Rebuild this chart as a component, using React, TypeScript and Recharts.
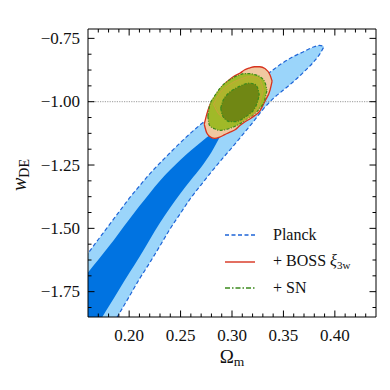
import React from 'react';
import { ComposedChart, Area, XAxis, YAxis, Legend } from 'recharts';

const SERIF = '"Liberation Serif", "DejaVu Serif", serif';

// axis ranges and ticks
const OM_RANGE = [0.16, 0.44];
const W_RANGE = [-1.85, -0.713];
const OM_MAJOR = [0.2, 0.25, 0.3, 0.35, 0.4];
const OM_MINOR = [
  0.17, 0.18, 0.19, 0.21, 0.22, 0.23, 0.24, 0.26, 0.27, 0.28, 0.29, 0.31, 0.32,
  0.33, 0.34, 0.36, 0.37, 0.38, 0.39, 0.41, 0.42, 0.43,
];
const W_MAJOR = [-1.75, -1.5, -1.25, -1.0, -0.75];
const W_MINOR = [
  -1.8125, -1.6875, -1.625, -1.5625, -1.4375, -1.375, -1.3125, -1.1875, -1.125,
  -1.0625, -0.9375, -0.875, -0.8125,
];

// Planck, 95% region (lower / upper edge of w at each Omega_m)
const PLANCK95_OM = [
  0.15, 0.16, 0.17, 0.18, 0.19, 0.2, 0.21, 0.22, 0.23, 0.24, 0.25, 0.26, 0.27, 0.28,
  0.29, 0.3, 0.31, 0.32, 0.33, 0.34, 0.35, 0.36, 0.37, 0.38, 0.385, 0.3895,
];
const PLANCK95_LO = [
  -2.119, -2.049, -1.979, -1.909, -1.839, -1.77, -1.7, -1.636, -1.569, -1.501, -1.44,
  -1.38, -1.328, -1.277, -1.228, -1.181, -1.132, -1.083, -1.031, -0.988, -0.954, -0.92,
  -0.882, -0.84, -0.814, -0.782,
];
const PLANCK95_HI = [
  -1.654, -1.599, -1.544, -1.49, -1.436, -1.382, -1.333, -1.285, -1.242, -1.201, -1.161,
  -1.123, -1.088, -1.056, -1.024, -0.999, -0.969, -0.938, -0.905, -0.874, -0.845, -0.821,
  -0.802, -0.783, -0.778, -0.782,
];

// Planck, 68% region
const PLANCK68_OM = [
  0.15, 0.16, 0.17, 0.18, 0.19, 0.2, 0.21, 0.22, 0.23, 0.24, 0.25, 0.26, 0.27, 0.28,
  0.29, 0.3,
];
const PLANCK68_LO = [
  -2.01, -1.943, -1.876, -1.81, -1.743, -1.677, -1.613, -1.545, -1.478, -1.418, -1.361,
  -1.309, -1.259, -1.2, -1.128, -1.081,
];
const PLANCK68_HI = [
  -1.724, -1.674, -1.624, -1.573, -1.519, -1.465, -1.412, -1.361, -1.312, -1.269, -1.229,
  -1.193, -1.159, -1.128, -1.098, -1.081,
];

// + BOSS xi_3w, 95%
const BOSS95_OM = [
  0.273, 0.2755, 0.278, 0.283, 0.288, 0.293, 0.298, 0.303, 0.308, 0.312, 0.317, 0.322,
  0.327, 0.332, 0.337, 0.339,
];
const BOSS95_LO = [
  -1.089, -1.124, -1.136, -1.145, -1.14, -1.13, -1.12, -1.111, -1.093, -1.081, -1.069,
  -1.055, -1.037, -0.998, -0.954, -0.919,
];
const BOSS95_HI = [
  -1.089, -1.049, -1.018, -0.982, -0.952, -0.929, -0.911, -0.897, -0.887, -0.875, -0.867,
  -0.862, -0.862, -0.869, -0.895, -0.919,
];

// + BOSS xi_3w, 68%
const BOSS68_OM = [0.282, 0.288, 0.298, 0.308, 0.317, 0.325, 0.329, 0.3305];
const BOSS68_LO = [-1.01, -1.053, -1.073, -1.077, -1.061, -1.026, -0.978, -0.954];
const BOSS68_HI = [-1.01, -0.966, -0.931, -0.911, -0.901, -0.905, -0.931, -0.954];

// + SN, 95%
const SN95_OM = [
  0.2765, 0.278, 0.283, 0.288, 0.293, 0.298, 0.303, 0.308, 0.312, 0.317, 0.322, 0.327,
  0.332, 0.334,
];
const SN95_LO = [
  -1.057, -1.093, -1.107, -1.113, -1.111, -1.105, -1.097, -1.087, -1.075, -1.061, -1.047,
  -1.026, -0.99, -0.954,
];
const SN95_HI = [
  -1.057, -1.02, -0.978, -0.948, -0.927, -0.913, -0.901, -0.893, -0.889, -0.889, -0.893,
  -0.901, -0.923, -0.954,
];

// + SN, 68%
const SN68_OM = [0.289, 0.291, 0.294, 0.298, 0.303, 0.308, 0.312, 0.317, 0.322, 0.325, 0.3265];
const SN68_LO = [-1.026, -1.057, -1.071, -1.079, -1.079, -1.073, -1.063, -1.049, -1.027, -0.998, -0.974];
const SN68_HI = [-1.026, -0.998, -0.978, -0.962, -0.948, -0.938, -0.931, -0.927, -0.931, -0.946, -0.974];

// w = -1 reference
const LCDM_OM = [0.16, 0.44];
const LCDM_W = [-1, -1];

const C = {
  planckLight: '#9bd5fa',
  planckDark: '#0073e1',
  planckEdge: '#1e64d7',
  bossFill: '#f0c8a0',
  bossEdge: '#d7321e',
  boss68: '#b9b230',
  boss68Edge: '#cfa03c',
  sn95: '#a0b928',
  sn68: '#708714',
  snEdge: '#3b8a1c',
};

const band = (om: number[], lo: number[], hi: number[]) =>
  om.map((x, i) => ({ x, lo: lo[i], hi: hi[i] }));
const line = (om: number[], w: number[]) => om.map((x, i) => ({ x, w: w[i] }));

const planck95 = band(PLANCK95_OM, PLANCK95_LO, PLANCK95_HI);
const planck68 = band(PLANCK68_OM, PLANCK68_LO, PLANCK68_HI);
const boss95 = band(BOSS95_OM, BOSS95_LO, BOSS95_HI);
const boss68 = band(BOSS68_OM, BOSS68_LO, BOSS68_HI);
const sn95 = band(SN95_OM, SN95_LO, SN95_HI);
const sn68 = band(SN68_OM, SN68_LO, SN68_HI);
const lcdm = line(LCDM_OM, LCDM_W);

const range = (d: any) => [d.lo, d.hi];

const isMajor = (v: number, majors: number[]) => majors.some((m) => Math.abs(m - v) < 1e-6);
const fmt = (v: number) => v.toFixed(2).replace('-', '\u2212');

type Side = 'bottom' | 'top' | 'left' | 'right';

function axisTick(side: Side, majors: number[], labelled: boolean) {
  return function Tick(props: any) {
    const { x, y, payload } = props;
    const major = isMajor(payload.value, majors);
    const len = major ? 6.5 : 3.5;
    let seg = { x1: x, y1: y, x2: x, y2: y };
    if (side === 'bottom') seg = { x1: x, y1: y, x2: x, y2: y - len };
    if (side === 'top') seg = { x1: x, y1: y, x2: x, y2: y + len };
    if (side === 'left') seg = { x1: x, y1: y, x2: x + len, y2: y };
    if (side === 'right') seg = { x1: x, y1: y, x2: x - len, y2: y };
    return (
      <g>
        <line {...seg} stroke="#000" strokeWidth={1} />
        {labelled && major && side === 'bottom' && (
          <text x={x} y={y + 23.5} textAnchor="middle" fontFamily={SERIF} fontSize={17} fill="#111">
            {fmt(payload.value)}
          </text>
        )}
        {labelled && major && side === 'left' && (
          <text x={x - 8} y={y + 5.5} textAnchor="end" fontFamily={SERIF} fontSize={17} fill="#111">
            {fmt(payload.value)}
          </text>
        )}
      </g>
    );
  };
}

const XLabel = (props: any) => {
  const { viewBox } = props;
  const cx = viewBox.x + viewBox.width / 2;
  const cy = viewBox.y + 46;
  return (
    <text x={cx} y={cy} textAnchor="middle" fontFamily={SERIF} fontSize={19} fill="#111">
      Ω
      <tspan fontSize={13.5} dy={3}>
        m
      </tspan>
    </text>
  );
};

const YLabel = (props: any) => {
  const { viewBox } = props;
  const cx = viewBox.x - 61;
  const cy = viewBox.y + viewBox.height / 2 + 2;
  return (
    <text
      x={cx}
      y={cy}
      transform={`rotate(-90 ${cx} ${cy})`}
      textAnchor="middle"
      fontFamily={SERIF}
      fontSize={20}
      fill="#111"
    >
      <tspan fontStyle="italic">w</tspan>
      <tspan fontSize={14} dy={3}>
        DE
      </tspan>
    </text>
  );
};

const LEGEND_ROWS = [
  { key: 'planck', color: C.planckEdge, dash: '4 2.5' },
  { key: 'boss', color: C.bossEdge, dash: undefined },
  { key: 'sn', color: C.snEdge, dash: '5 2 1.5 2' },
];

const legendText = (key: string) => {
  if (key === 'planck') return <span>Planck</span>;
  if (key === 'boss')
    return (
      <span>
        + BOSS <i>ξ</i>
        <sub style={{ fontSize: 11, verticalAlign: '-3px' }}>3w</sub>
      </span>
    );
  return <span>+ SN</span>;
};

const ContourLegend = () => (
  <div style={{ fontFamily: SERIF, fontSize: 16, color: '#111' }}>
    {LEGEND_ROWS.map((r) => (
      <div key={r.key} style={{ display: 'flex', alignItems: 'center', height: 26.5 }}>
        <svg width={30} height={6} style={{ marginRight: 18 }}>
          <line x1={0} y1={3} x2={30} y2={3} stroke={r.color} strokeWidth={1.4} strokeDasharray={r.dash} />
        </svg>
        {legendText(r.key)}
      </div>
    ))}
  </div>
);

export default function App() {
  const omTicks = [...OM_MINOR, ...OM_MAJOR];
  const wTicks = [...W_MINOR, ...W_MAJOR];
  const common = { isAnimationActive: false, dot: false, activeDot: false, xAxisId: 'b', yAxisId: 'l' } as const;
  const axisCommon = {
    type: 'number',
    allowDataOverflow: true,
    interval: 0,
    tickSize: 0,
    tickMargin: 0,
    tickLine: false,
    axisLine: { stroke: '#000', strokeWidth: 1 },
  } as const;
  return (
    <ComposedChart width={382} height={382} margin={{ top: 20, right: 13, bottom: 72, left: 79 }}>
      <XAxis
        {...axisCommon}
        xAxisId="b"
        dataKey="x"
        orientation="bottom"
        domain={OM_RANGE}
        ticks={omTicks}
        height={1}
        tick={axisTick('bottom', OM_MAJOR, true)}
        label={XLabel}
      />
      <XAxis
        {...axisCommon}
        xAxisId="t"
        dataKey="x"
        orientation="top"
        domain={OM_RANGE}
        ticks={omTicks}
        height={1}
        tick={axisTick('top', OM_MAJOR, false)}
      />
      <YAxis
        {...axisCommon}
        yAxisId="l"
        orientation="left"
        domain={W_RANGE}
        ticks={wTicks}
        width={1}
        tick={axisTick('left', W_MAJOR, true)}
        label={YLabel}
      />
      <YAxis
        {...axisCommon}
        yAxisId="r"
        orientation="right"
        domain={W_RANGE}
        ticks={wTicks}
        width={1}
        tick={axisTick('right', W_MAJOR, false)}
      />

      <Area {...common} data={planck95} dataKey={range} type="monotone" fill={C.planckLight} fillOpacity={1}
        stroke={C.planckEdge} strokeWidth={1.2} strokeDasharray="4 2.5" />
      <Area {...common} data={planck68} dataKey={range} type="monotone" fill={C.planckDark} fillOpacity={1}
        stroke="none" />
      <Area {...common} data={lcdm} dataKey="w" type="linear" fill="none" fillOpacity={0}
        stroke="#9a9a9a" strokeWidth={1} strokeDasharray="1.2 1.2" />
      <Area {...common} data={boss95} dataKey={range} type="monotone" fill={C.bossFill} fillOpacity={1}
        stroke={C.bossEdge} strokeWidth={1.3} />
      <Area {...common} data={sn95} dataKey={range} type="monotone" fill={C.sn95} fillOpacity={1}
        stroke={C.snEdge} strokeWidth={1.2} strokeDasharray="3 1.5 1 1.5" />
      <Area {...common} data={boss68} dataKey={range} type="monotone" fill={C.boss68} fillOpacity={0.55}
        stroke={C.boss68Edge} strokeWidth={0.8} />
      <Area {...common} data={sn68} dataKey={range} type="monotone" fill={C.sn68} fillOpacity={1}
        stroke={C.snEdge} strokeWidth={1.2} strokeDasharray="3 1.5 1 1.5" />

      <Legend
        layout="vertical"
        align="center"
        verticalAlign="middle"
        content={ContourLegend}
        wrapperStyle={{ left: 217, top: 214, width: 170 }}
      />
    </ComposedChart>
  );
}
